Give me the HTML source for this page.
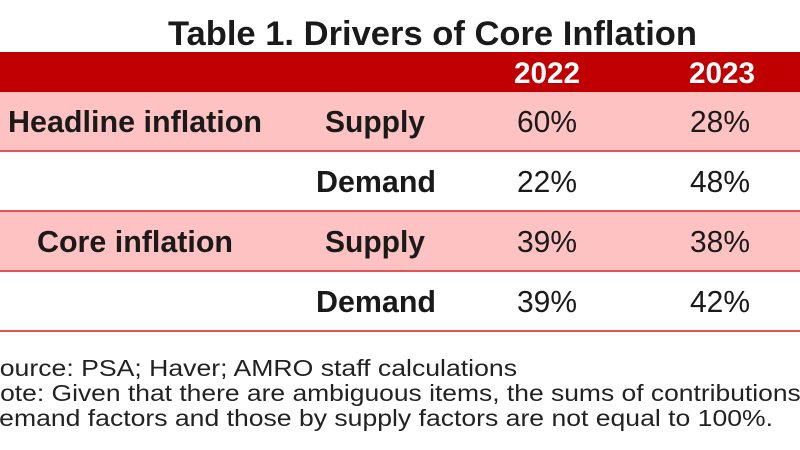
<!DOCTYPE html>
<html><head><meta charset="utf-8"><style>
html,body{margin:0;padding:0;background:#fff;width:800px;height:450px;overflow:hidden}
svg{display:block;font-family:"Liberation Sans",Arial,sans-serif}
</style></head><body>
<svg width="800" height="450" viewBox="0 0 800 450">
<text x="168" y="45" font-size="34" font-weight="bold" fill="#1a1a1a" textLength="529" lengthAdjust="spacingAndGlyphs">Table 1. Drivers of Core Inflation</text>
<rect x="0" y="52" width="800" height="40" fill="#C00000"/>
<text x="514" y="83" font-size="30" font-weight="bold" fill="#fff" textLength="66" lengthAdjust="spacingAndGlyphs">2022</text>
<text x="689" y="83" font-size="30" font-weight="bold" fill="#fff" textLength="66" lengthAdjust="spacingAndGlyphs">2023</text>
<rect x="0" y="92" width="800" height="58" fill="#FFC2C2"/>
<rect x="0" y="211" width="800" height="59" fill="#FFC2C2"/>
<g stroke="#E05555" stroke-width="2">
<line x1="0" y1="151" x2="800" y2="151"/>
<line x1="0" y1="211" x2="800" y2="211"/>
<line x1="0" y1="271" x2="800" y2="271"/>
<line x1="0" y1="331" x2="800" y2="331"/>
</g>
<g font-size="31" fill="#1a1a1a">
<text x="8" y="132" font-weight="bold" textLength="254" lengthAdjust="spacingAndGlyphs">Headline inflation</text>
<text x="325" y="132" font-weight="bold" textLength="100" lengthAdjust="spacingAndGlyphs">Supply</text>
<text x="517" y="132" textLength="60" lengthAdjust="spacingAndGlyphs">60%</text>
<text x="690" y="132" textLength="60" lengthAdjust="spacingAndGlyphs">28%</text>
<text x="316" y="192" font-weight="bold" textLength="120" lengthAdjust="spacingAndGlyphs">Demand</text>
<text x="517" y="192" textLength="60" lengthAdjust="spacingAndGlyphs">22%</text>
<text x="690" y="192" textLength="60" lengthAdjust="spacingAndGlyphs">48%</text>
<text x="37" y="252" font-weight="bold" textLength="196" lengthAdjust="spacingAndGlyphs">Core inflation</text>
<text x="325" y="252" font-weight="bold" textLength="100" lengthAdjust="spacingAndGlyphs">Supply</text>
<text x="517" y="252" textLength="60" lengthAdjust="spacingAndGlyphs">39%</text>
<text x="690" y="252" textLength="60" lengthAdjust="spacingAndGlyphs">38%</text>
<text x="316" y="312" font-weight="bold" textLength="120" lengthAdjust="spacingAndGlyphs">Demand</text>
<text x="517" y="312" textLength="60" lengthAdjust="spacingAndGlyphs">39%</text>
<text x="690" y="312" textLength="60" lengthAdjust="spacingAndGlyphs">42%</text>
</g>
<g font-size="23" fill="#222">
<text x="-18" y="376" textLength="535" lengthAdjust="spacingAndGlyphs">Source: PSA; Haver; AMRO staff calculations</text>
<text x="-19" y="401" textLength="855" lengthAdjust="spacingAndGlyphs">Note: Given that there are ambiguous items, the sums of contributions by</text>
<text x="-20" y="426" textLength="793" lengthAdjust="spacingAndGlyphs">Demand factors and those by supply factors are not equal to 100%.</text>
</g>
</svg>
</body></html>
